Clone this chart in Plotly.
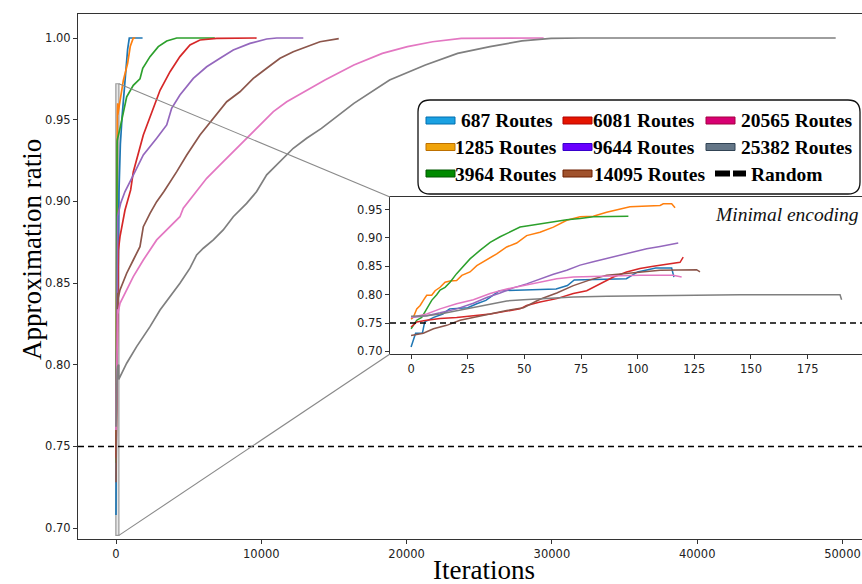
import plotly.graph_objects as go

# ---------------- data: approximation ratio vs iterations ----------------
# First ~190 iterations (minimal encoding) for each route count
it_687 = [0, 2, 5, 6, 10, 14, 17, 25, 29, 33, 39, 64, 69, 72, 95, 100, 108, 115, 116]
ar_687 = [0.708, 0.732, 0.732, 0.752, 0.760, 0.766, 0.775, 0.777, 0.784, 0.790, 0.807,
          0.810, 0.816, 0.826, 0.828, 0.840, 0.847, 0.847, 0.831]

it_1285 = [0, 1, 2.5, 4, 5.4, 6.9, 9.1, 10.6, 12.8, 15, 17.2, 20.1, 22.4, 26, 29, 33.4, 37.8,
           42.2, 46.6, 51, 56.9, 62.8, 68.7, 74.6, 80.4, 86.3, 92.2, 96.6, 109.9, 111.3, 115, 116.5]
ar_1285 = [0.757, 0.760, 0.775, 0.781, 0.790, 0.799, 0.799, 0.807, 0.813, 0.822, 0.824, 0.825,
           0.834, 0.840, 0.851, 0.861, 0.872, 0.884, 0.891, 0.904, 0.910, 0.919, 0.931, 0.937,
           0.938, 0.945, 0.951, 0.955, 0.957, 0.960, 0.960, 0.953]

it_3964 = [0, 2.5, 4.7, 6.9, 9.1, 11.3, 12.8, 15, 17.2, 20.1, 23.1, 26, 30.4, 34.9, 39.3, 43.7,
           48.1, 51, 56.9, 62.8, 68.7, 74.6, 80.4, 95.9]
ar_3964 = [0.740, 0.755, 0.760, 0.775, 0.790, 0.800, 0.808, 0.813, 0.822, 0.837, 0.851, 0.863,
           0.878, 0.892, 0.902, 0.910, 0.919, 0.921, 0.925, 0.928, 0.932, 0.934, 0.937, 0.938]

it_6081 = [0, 2.5, 6.9, 12.8, 20.1, 27.5, 34.9, 42.2, 48.1, 51, 56.9, 64.3, 71.6, 77.5, 83.4,
           89.3, 95.1, 101, 106.9, 112.8, 118.7, 120.1]
ar_6081 = [0.743, 0.752, 0.755, 0.758, 0.760, 0.763, 0.766, 0.771, 0.775, 0.781, 0.787, 0.793,
           0.802, 0.807, 0.819, 0.831, 0.840, 0.846, 0.850, 0.854, 0.857, 0.866]

it_9644 = [0, 6.9, 12.8, 20.1, 27.5, 33.4, 39.3, 45.1, 51, 56.9, 62.8, 68.7, 74.6, 80.4, 86.3,
           92.2, 98.1, 104, 109.9, 115.7, 117.9]
ar_9644 = [0.760, 0.763, 0.768, 0.775, 0.785, 0.795, 0.803, 0.812, 0.819, 0.828, 0.836, 0.843,
           0.852, 0.858, 0.864, 0.870, 0.876, 0.881, 0.885, 0.890, 0.891]

it_14095 = [0, 5.4, 9.9, 15.7, 21.6, 27.5, 34.9, 42.2, 49.6, 56.9, 64.3, 71.6, 79, 86.3, 93.7,
            101, 109.9, 126, 127.5]
ar_14095 = [0.728, 0.732, 0.740, 0.746, 0.755, 0.760, 0.766, 0.772, 0.777, 0.792, 0.803, 0.816,
            0.826, 0.834, 0.837, 0.840, 0.843, 0.844, 0.840]

it_20565 = [0, 6.9, 12.8, 20.1, 27.5, 34.9, 42.2, 49.6, 56.9, 64.3, 71.6, 79, 86.3, 101, 115.7, 119.4]
ar_20565 = [0.760, 0.766, 0.775, 0.784, 0.791, 0.802, 0.810, 0.816, 0.822, 0.828, 0.831, 0.832,
            0.833, 0.834, 0.834, 0.831]

it_25382 = [0, 6.9, 12.8, 20.1, 27.5, 34.9, 42.2, 49.6, 56.9, 71.6, 86.3, 115.7, 145, 189.3, 190]
ar_25382 = [0.762, 0.763, 0.766, 0.772, 0.778, 0.784, 0.789, 0.791, 0.793, 0.796, 0.797, 0.799,
            0.800, 0.800, 0.791]

# Remaining iterations of each full run
it_687_rest = [150, 206, 300, 420, 550, 690, 800, 915, 1830]
ar_687_rest = [0.860, 0.906, 0.935, 0.952, 0.966, 0.984, 0.993, 1.0, 1.0]

it_1285_rest = [160, 344, 505, 800, 985, 1190, 1330]
ar_1285_rest = [0.955, 0.964, 0.974, 0.9845, 0.995, 1.0, 1.0]

it_3964_rest = [275, 460, 735, 1190, 1650, 1840, 2340, 2910, 3490, 4180, 6800]
ar_3964_rest = [0.9447, 0.953, 0.964, 0.971, 0.975, 0.9815, 0.9886, 0.9947, 0.9982, 1.0, 1.0]

it_6081_rest = [160, 275, 620, 1010, 1190, 1880, 2570, 3030, 3720, 4400, 5090, 5780, 6930, 9680]
ar_6081_rest = [0.870, 0.8784, 0.8947, 0.907, 0.918, 0.9406, 0.957, 0.968, 0.9794, 0.9886,
                0.9957, 0.9988, 0.9998, 1.0]

it_9644_rest = [320, 620, 1080, 1880, 2800, 3490, 3830, 4400, 5320, 6240, 7160, 8070, 9220,
                10370, 11060, 12890]
ar_9644_rest = [0.8988, 0.906, 0.9141, 0.9284, 0.9386, 0.9468, 0.957, 0.9651, 0.9753, 0.9824,
                0.9876, 0.9927, 0.9967, 0.9994, 1.0, 1.0]

it_14095_rest = [275, 735, 1190, 1650, 1880, 2340, 2800, 3300, 4180, 4870, 5780, 6700, 7620,
                 8530, 9450, 10370, 11290, 12200, 13120, 14040, 15330]
ar_14095_rest = [0.8458, 0.856, 0.8641, 0.8723, 0.8845, 0.8927, 0.8998, 0.906, 0.9182, 0.9284,
                 0.9406, 0.9509, 0.961, 0.9671, 0.9753, 0.9815, 0.9876, 0.9916, 0.9947, 0.9977,
                 0.9996]

it_20565_rest = [275, 1190, 1880, 2800, 3720, 4400, 4630, 5550, 6240, 7160, 8070, 8990, 9910,
                 10830, 11750, 12660, 14380, 16370, 18330, 20060, 21790, 23760, 26220, 29430]
ar_20565_rest = [0.8376, 0.8539, 0.8641, 0.8764, 0.8845, 0.8906, 0.8958, 0.906, 0.9141, 0.9223,
                 0.9304, 0.9386, 0.9468, 0.9549, 0.961, 0.9655, 0.9743, 0.9835, 0.9906, 0.9947,
                 0.9977, 0.9998, 1.0, 1.0]

it_25382_rest = [275, 735, 1420, 2340, 3030, 3720, 4400, 5090, 5550, 6010, 6700, 7380, 8070,
                 8990, 9680, 10370, 11290, 12200, 13120, 14140, 16370, 18830, 21290, 23510,
                 25740, 27940, 29940, 32000, 49530]
ar_25382_rest = [0.7927, 0.8009, 0.8111, 0.8233, 0.8335, 0.8417, 0.8499, 0.8591, 0.8672, 0.8713,
                 0.8764, 0.8825, 0.8906, 0.8988, 0.906, 0.9162, 0.9243, 0.9325, 0.9386, 0.9447,
                 0.96, 0.9743, 0.9835, 0.9906, 0.9947, 0.9982, 0.9998, 1.0, 1.0]

random_ratio = 0.75

series_names = ["687", "1285", "3964", "6081", "9644", "14095", "20565", "25382"]
line_colors = ["#1f77b4", "#ff7f0e", "#2ca02c", "#d62728", "#9467bd", "#8c564b", "#e377c2", "#7f7f7f"]
key_fill = ["#1ba1e2", "#f0a30a", "#008a00", "#e51400", "#6a00ff", "#a0522d", "#d80073", "#647687"]
key_edge = ["#006eaf", "#bd7000", "#005700", "#b20000", "#3700cc", "#6d1f00", "#a50040", "#314354"]

heads = [(it_687, ar_687), (it_1285, ar_1285), (it_3964, ar_3964), (it_6081, ar_6081),
         (it_9644, ar_9644), (it_14095, ar_14095), (it_20565, ar_20565), (it_25382, ar_25382)]
rests = [(it_687_rest, ar_687_rest), (it_1285_rest, ar_1285_rest), (it_3964_rest, ar_3964_rest),
         (it_6081_rest, ar_6081_rest), (it_9644_rest, ar_9644_rest), (it_14095_rest, ar_14095_rest),
         (it_20565_rest, ar_20565_rest), (it_25382_rest, ar_25382_rest)]

main_xticks = [0, 10000, 20000, 30000, 40000, 50000]
main_yticks = [0.70, 0.75, 0.80, 0.85, 0.90, 0.95, 1.00]
inset_xticks = [0, 25, 50, 75, 100, 125, 150, 175]
inset_yticks = [0.70, 0.75, 0.80, 0.85, 0.90, 0.95]

# ---------------- geometry ----------------
W, H = 862, 584
ML, MR, MT, MB = 78, 0, 14, 45
PW, PH = W - ML - MR, H - MT - MB


def fx(p):
    return (p - ML) / PW


def fy(p):
    return (H - MB - p) / PH


main_xr = [-2615, 51340]
main_yr = [0.6933, 1.0147]
inset_xr = [-9.3, 199.0]
inset_yr = [0.6955, 0.9720]
inset_dx = [fx(390), 1.0]
inset_dy = [fy(354), fy(197)]

fig = go.Figure()

for (hx, hy), (rx, ry), col in zip(heads, rests, line_colors):
    fig.add_trace(go.Scatter(x=hx + rx, y=hy + ry, mode="lines", showlegend=False,
                             line=dict(color=col, width=1.7), xaxis="x", yaxis="y",
                             hoverinfo="skip"))
fig.add_trace(go.Scatter(x=main_xr, y=[random_ratio, random_ratio], mode="lines",
                         showlegend=False, line=dict(color="black", width=1.5, dash="6px,4px"),
                         xaxis="x", yaxis="y"))

for (hx, hy), col in zip(heads, line_colors):
    fig.add_trace(go.Scatter(x=hx, y=hy, mode="lines", showlegend=False,
                             line=dict(color=col, width=1.5), xaxis="x2", yaxis="y2",
                             hoverinfo="skip"))
fig.add_trace(go.Scatter(x=inset_xr, y=[random_ratio, random_ratio], mode="lines",
                         showlegend=False, line=dict(color="black", width=1.5, dash="6px,4px"),
                         xaxis="x2", yaxis="y2"))

tick_font = dict(family="DejaVu Sans", size=11.5, color="#222")
axis_common = dict(showgrid=False, zeroline=False, showline=True, linecolor="#333", linewidth=1,
                   ticks="outside", ticklen=4, tickwidth=1, tickcolor="#333", tickfont=tick_font)

fig.update_layout(
    width=W, height=H, margin=dict(l=ML, r=MR, t=MT, b=MB),
    paper_bgcolor="white", plot_bgcolor="white", showlegend=False,
    xaxis=dict(domain=[0, 1], range=main_xr, tickvals=main_xticks,
               ticktext=[str(v) for v in main_xticks], mirror=True, anchor="y", **axis_common),
    yaxis=dict(domain=[0, 1], range=main_yr, tickvals=main_yticks, tickformat=".2f",
               anchor="x", **axis_common),
    xaxis2=dict(domain=inset_dx, range=inset_xr, tickvals=inset_xticks, mirror=True,
                anchor="y2", **axis_common),
    yaxis2=dict(domain=inset_dy, range=inset_yr, tickvals=inset_yticks, tickformat=".2f",
                anchor="x2", **axis_common),
)

shapes = []
# zoom indicator box and its connectors to the inset corners
shapes.append(dict(type="rect", xref="x", yref="y", x0=inset_xr[0], x1=inset_xr[1],
                   y0=inset_yr[0], y1=inset_yr[1], line=dict(color="#9a9a9a", width=1.2),
                   fillcolor="rgba(190,190,190,0.35)", layer="below"))
corner_x = main_xr[0] + inset_dx[0] * (main_xr[1] - main_xr[0])
corner_top = main_yr[0] + inset_dy[1] * (main_yr[1] - main_yr[0])
corner_bot = main_yr[0] + inset_dy[0] * (main_yr[1] - main_yr[0])
shapes.append(dict(type="line", xref="x", yref="y", x0=inset_xr[1], y0=inset_yr[1],
                   x1=corner_x, y1=corner_top, line=dict(color="#8a8a8a", width=1.1)))
shapes.append(dict(type="line", xref="x", yref="y", x0=inset_xr[1], y0=inset_yr[0],
                   x1=corner_x, y1=corner_bot, line=dict(color="#8a8a8a", width=1.1)))

# rounded legend frame
bx0, bx1, by0, by1, rad = 418, 860, 100, 194, 12
rx_, ry_ = rad / PW, rad / PH
X0, X1, Y0, Y1 = fx(bx0), fx(bx1), fy(by1), fy(by0)
path = (f"M {X0 + rx_},{Y0} L {X1 - rx_},{Y0} Q {X1},{Y0} {X1},{Y0 + ry_} "
        f"L {X1},{Y1 - ry_} Q {X1},{Y1} {X1 - rx_},{Y1} L {X0 + rx_},{Y1} "
        f"Q {X0},{Y1} {X0},{Y1 - ry_} L {X0},{Y0 + ry_} Q {X0},{Y0} {X0 + rx_},{Y0} Z")
shapes.append(dict(type="path", xref="paper", yref="paper", path=path,
                   line=dict(color="#111", width=1.3), fillcolor="white"))

key_x = [426, 426, 426, 563, 563, 563, 706, 706]
row_y = [120.5, 147, 173.5]
label_x = [460.7, 455, 455, 592.7, 592.7, 594, 741, 741]
annotations = []
for i, name in enumerate(series_names):
    ry = row_y[i % 3]
    shapes.append(dict(type="rect", xref="paper", yref="paper", x0=fx(key_x[i]),
                       x1=fx(key_x[i] + 29), y0=fy(ry + 3.5), y1=fy(ry - 3.5),
                       fillcolor=key_fill[i], line=dict(color=key_edge[i], width=1)))
    annotations.append(dict(xref="paper", yref="paper", x=fx(label_x[i] - 2), y=fy(ry + 0.5),
                            xanchor="left", yanchor="middle", showarrow=False,
                            text=f"<b>{name} Routes</b>",
                            font=dict(family="Liberation Serif", size=19.5, color="black")))
# dashed key for the random baseline
for a, b in [(715, 730), (733, 746)]:
    shapes.append(dict(type="rect", xref="paper", yref="paper", x0=fx(a), x1=fx(b),
                       y0=fy(row_y[2] + 3), y1=fy(row_y[2] - 3), fillcolor="black",
                       line=dict(width=0)))
annotations.append(dict(xref="paper", yref="paper", x=fx(748.7), y=fy(row_y[2] + 0.5),
                        xanchor="left", yanchor="middle", showarrow=False, text="<b>Random</b>",
                        font=dict(family="Liberation Serif", size=19.5, color="black")))

annotations.append(dict(xref="paper", yref="paper", x=fx(861), y=fy(214), xanchor="right",
                        yanchor="middle", showarrow=False, text="<i>Minimal encoding</i>",
                        font=dict(family="Liberation Serif", size=19.5, color="#111")))
annotations.append(dict(xref="paper", yref="paper", x=fx(32), y=fy(250), xanchor="center",
                        yanchor="middle", showarrow=False, text="Approximation ratio",
                        textangle=-90, font=dict(family="Liberation Serif", size=27, color="black")))
annotations.append(dict(xref="paper", yref="paper", x=fx(484), y=fy(570), xanchor="center",
                        yanchor="middle", showarrow=False, text="Iterations",
                        font=dict(family="Liberation Serif", size=27, color="black")))

fig.update_layout(shapes=shapes, annotations=annotations)
fig.write_html("out.html")
